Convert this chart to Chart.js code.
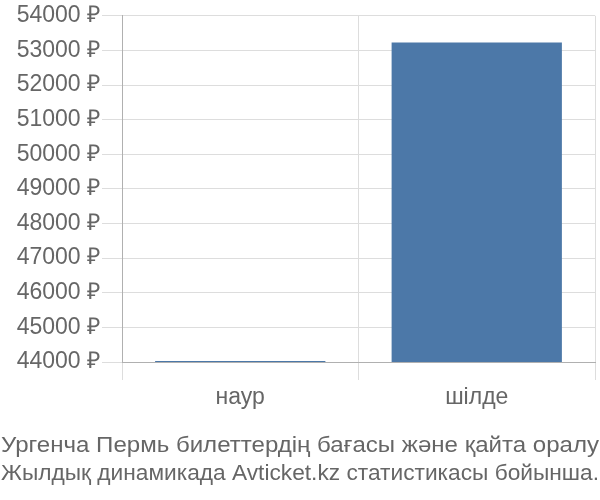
<!DOCTYPE html>
<html>
<head>
<meta charset="utf-8">
<script src="https://cdn.jsdelivr.net/npm/chart.js@4"></script>
<style>
  html, body { margin: 0; padding: 0; background: #fff; }
  #wrap { width: 600px; height: 500px; position: relative; }
</style>
</head>
<body>
<div id="wrap"><canvas id="c"></canvas></div>
<script>
'use strict';
// bilety wg miesiąca (₽)
const months = ['наур', 'шілде'];
const prices = [44030, 53230];
const yTicks = [44000, 45000, 46000, 47000, 48000, 49000, 50000, 51000, 52000, 53000, 54000];
const titleLines = ['Ургенча Пермь билеттердің бағасы және қайта оралу', 'Жылдық динамикада Avticket.kz статистикасы бойынша.'];

const FONT = '"Liberation Sans", Arial, sans-serif';

// podpis pod wykresem: dwie linie rozciągnięte na całą szerokość
const footTitle = {
  id: 'footTitle',
  afterDraw(chart) {
    const { ctx } = chart;
    ctx.save();
    ctx.font = '22px ' + FONT;
    ctx.fillStyle = '#666';
    ctx.textBaseline = 'middle';
    ctx.textAlign = 'left';
    const ys = [446, 474];
    titleLines.forEach((t, i) => {
      const w = ctx.measureText(t).width;
      ctx.save();
      ctx.translate(1, ys[i]);
      ctx.scale(598 / w, 1);
      ctx.fillText(t, 0, 0);
      ctx.restore();
    });
    ctx.restore();
  }
};

new Chart(document.getElementById('c'), {
  type: 'bar',
  data: {
    labels: months,
    datasets: [{ data: prices, backgroundColor: '#4c78a8', barPercentage: 0.72, categoryPercentage: 1 }]
  },
  plugins: [footTitle],
  options: {
    responsive: true, maintainAspectRatio: false, animation: false,
    layout: { padding: { top: 14, right: 5, left: 0, bottom: 76 } },
    plugins: { legend: { display: false }, tooltip: { enabled: false }, title: { display: false } },
    scales: {
      x: {
        afterFit: ax => { ax.height = 62; },
        grid: { color: '#dddddd', tickLength: 18, offset: true },
        border: { color: '#b0b0b0' },
        ticks: { color: '#666', font: { family: FONT, size: 23 }, padding: 4 }
      },
      y: {
        min: 44000, max: 54000,
        afterFit: ax => { ax.width = 122; },
        afterBuildTicks: ax => { ax.ticks = yTicks.map(v => ({ value: v })); },
        grid: { color: '#dddddd', tickLength: 20 },
        border: { color: '#b0b0b0' },
        ticks: { color: '#666', font: { family: FONT, size: 23 }, padding: 2, callback: v => v + ' ₽' }
      }
    }
  }
});
</script>
</body>
</html>
